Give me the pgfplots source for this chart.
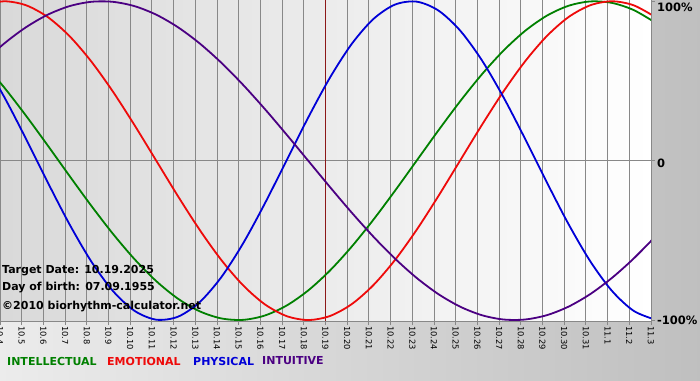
\documentclass[border=0pt]{standalone}
\usepackage{pgfplots}
\pgfplotsset{compat=1.18}
\usepackage{pgfplotstable}
\usepackage{fontspec}
\setmainfont{DejaVu Sans}
\definecolor{cIntel}{RGB}{0,128,0}
\definecolor{cEmot}{RGB}{238,10,10}
\definecolor{cPhys}{RGB}{0,0,215}
\definecolor{cIntu}{RGB}{75,0,130}
\definecolor{cTarget}{RGB}{140,24,24}
\definecolor{cGrid}{RGB}{136,136,136}

\pgfplotstableread{
x phys emot intel intu
-0.8 0.6311 0.9749 0.6182 0.6142
0.2 0.3984 1 0.4582 0.7357
1.2 0.1362 0.9749 0.2817 0.8372
2.2 -0.1362 0.9010 0.0951 0.9158
3.2 -0.3984 0.7818 -0.0951 0.9694
4.2 -0.6311 0.6235 -0.2817 0.9966
5.2 -0.8170 0.4339 -0.4582 0.9966
6.2 -0.9423 0.2225 -0.6182 0.9694
7.2 -0.9977 0 -0.7557 0.9158
8.2 -0.9791 -0.2225 -0.8660 0.8372
9.2 -0.8879 -0.4339 -0.9450 0.7357
10.2 -0.7308 -0.6235 -0.9898 0.6142
11.2 -0.5196 -0.7818 -0.9989 0.4759
12.2 -0.2698 -0.9010 -0.9718 0.3247
13.2 0 -0.9749 -0.9096 0.1646
14.2 0.2698 -1 -0.8146 0
15.2 0.5196 -0.9749 -0.6901 -0.1646
16.2 0.7308 -0.9010 -0.5406 -0.3247
17.2 0.8879 -0.7818 -0.3717 -0.4759
18.2 0.9791 -0.6235 -0.1893 -0.6142
19.2 0.9977 -0.4339 0 -0.7357
20.2 0.9423 -0.2225 0.1893 -0.8372
21.2 0.8170 0 0.3717 -0.9158
22.2 0.6311 0.2225 0.5406 -0.9694
23.2 0.3984 0.4339 0.6901 -0.9966
24.2 0.1362 0.6235 0.8146 -0.9966
25.2 -0.1362 0.7818 0.9096 -0.9694
26.2 -0.3984 0.9010 0.9718 -0.9158
27.2 -0.6311 0.9749 0.9989 -0.8372
28.2 -0.8170 1 0.9898 -0.7357
29.2 -0.9423 0.9749 0.9450 -0.6142
30.2 -0.9977 0.9010 0.8660 -0.4759
}\bio

\begin{document}
\begin{tikzpicture}[x=1pt,y=1pt]
\shade[left color=gray!15, right color=gray!50] (0,0) rectangle (700,380);
\begin{axis}[
  at={(0pt,59pt)}, anchor=south west,
  scale only axis, width=651pt, height=321pt,
  xmin=0, xmax=30, ymin=-1.006, ymax=1.008,
  axis background/.style={shade, left color=gray!30, right color=white},
  axis x line*=bottom, axis y line*=right,
  axis line style={cGrid, line width=1pt},
  xtick={0,...,30},
  xticklabels={10.4,10.5,10.6,10.7,10.8,10.9,10.10,10.11,10.12,10.13,10.14,10.15,10.16,10.17,10.18,10.19,10.20,10.21,10.22,10.23,10.24,10.25,10.26,10.27,10.28,10.29,10.30,10.31,11.1,11.2,11.3},
  xticklabel style={rotate=-90, anchor=west, font=\fontsize{8.3}{9}\selectfont, inner sep=1pt},
  xmajorgrids,
  major grid style={cGrid, line width=1pt},
  tick align=outside, major tick length=4pt,
  tick style={cGrid, line width=1pt},
  ytick={-1,1},
  yticklabels={\raisebox{-4pt}[0pt][0pt]{-100\%},\raisebox{-10pt}[0pt][0pt]{100\%}},
  extra y ticks={0},
  extra y tick labels={\raisebox{-6.5pt}[0pt][0pt]{0}},
  extra y tick style={grid=major},
  yticklabel style={anchor=west, font=\fontsize{11.5}{13}\selectfont\bfseries, inner sep=2pt},
  clip=true,
]
\addplot[cTarget, line width=1.8pt] coordinates {(15,-1.006) (15,1.008)};
\addplot[cIntel, line width=1.8pt, smooth] table[x=x, y=intel] {\bio};
\addplot[cEmot, line width=1.8pt, smooth] table[x=x, y=emot] {\bio};
\addplot[cPhys, line width=1.8pt, smooth] table[x=x, y=phys] {\bio};
\addplot[cIntu, line width=1.8pt, smooth] table[x=x, y=intu] {\bio};
\end{axis}
\begin{scope}[every node/.style={anchor=west, inner sep=0pt, font=\fontsize{11}{13}\selectfont\bfseries}]
\node at (2,109) {Target Date: 10.19.2025};
\node at (2,92) {Day of birth: 07.09.1955};
\node at (2,73) {©2010 biorhythm-calculator.net};
\node[text=cIntel] at (7,19) {INTELLECTUAL};
\node[text=cEmot] at (107,19) {EMOTIONAL};
\node[text=cPhys] at (193,19) {PHYSICAL};
\node[text=cIntu] at (262,19) {INTUITIVE};
\end{scope}
\pgfresetboundingbox
\path[use as bounding box] (0,0) rectangle (700,380);
\end{tikzpicture}
\end{document}
